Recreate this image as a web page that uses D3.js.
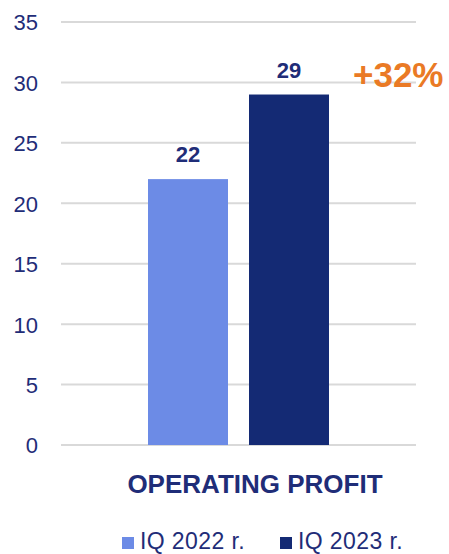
<!DOCTYPE html>
<meta charset="utf-8">
<script src="https://d3js.org/d3.v7.min.js"></script>
<style>
  body { margin: 0; background: #fff; }
  text { font-family: "Liberation Sans", Arial, sans-serif; }
</style>
<div id="chart"></div>
<script>

// data
var categories = ["OPERATING PROFIT"]
var series = ["IQ 2022 r.", "IQ 2023 r."]
var values = [22, 29]
var yTicks = [0, 5, 10, 15, 20, 25, 30, 35]
var change = "+32%"

var colors = ["#6c8be6", "#142a74"]
var navy = "#1f2d78"

var width = 449, height = 554
var margin = {top: 22, right: 33, bottom: 109, left: 61}

var svg = d3.select("#chart")
  .append("svg")
    .attr("width", width)
    .attr("height", height)

var g = svg.append("g")
    .attr("transform", "translate(" + margin.left + "," + margin.top + ")")

var w = width - margin.left - margin.right,
    h = height - margin.top - margin.bottom

var y = d3.scaleLinear()
  .domain([0, 35])
  .range([h, 0])

// one category, bars placed inside it
var x0 = d3.scaleBand()
  .domain(categories)
  .range([0, w])

var x1 = d3.scaleBand()
  .domain(series)
  .range([87, 268])
  .paddingInner(0.208)

// gridlines
g.selectAll(".grid")
  .data(yTicks)
  .enter()
  .append("line")
    .attr("x1", 0)
    .attr("x2", w)
    .attr("y1", function(d) { return y(d) })
    .attr("y2", function(d) { return y(d) })
    .attr("stroke", "#d9d9d9")
    .attr("stroke-width", 2)

// y axis labels
var yAxis = d3.axisLeft(y).tickValues(yTicks).tickSize(0).tickPadding(23)
g.append("g")
  .call(yAxis)
  .call(function(s) { s.select(".domain").remove() })
  .selectAll("text")
    .attr("fill", navy)
    .attr("font-size", 22)
    .style("font-family", "Liberation Sans, Arial, sans-serif")
    .attr("dy", "0.36em")

// bars
g.selectAll(".bar")
  .data(values)
  .enter()
  .append("rect")
    .attr("x", function(d, i) { return x0(categories[0]) + x1(series[i]) })
    .attr("width", x1.bandwidth())
    .attr("y", function(d) { return y(d) })
    .attr("height", function(d) { return h - y(d) })
    .attr("fill", function(d, i) { return colors[i] })

// value labels
g.selectAll(".val")
  .data(values)
  .enter()
  .append("text")
    .attr("x", function(d, i) { return x1(series[i]) + x1.bandwidth() / 2 })
    .attr("y", function(d) { return y(d) - 17 })
    .attr("text-anchor", "middle")
    .attr("fill", navy)
    .attr("font-size", 22)
    .attr("font-weight", "bold")
    .text(function(d) { return d })

// change label
g.append("text")
  .attr("x", 292)
  .attr("y", y(values[1]) - 8)
  .attr("fill", "#ea7a25")
  .attr("font-size", 35)
  .attr("font-weight", "bold")
  .text(change)

// category label
g.append("text")
  .attr("x", 194)
  .attr("y", h + 48)
  .attr("text-anchor", "middle")
  .attr("fill", navy)
  .attr("font-size", 26)
  .attr("font-weight", "bold")
  .text(categories[0])

// legend
var legend = svg.selectAll(".legend")
  .data(series)
  .enter()
  .append("g")
    .attr("transform", function(d, i) { return "translate(" + (122 + i * 158) + ",537)" })

legend.append("rect")
  .attr("width", 12)
  .attr("height", 12)
  .attr("fill", function(d, i) { return colors[i] })

legend.append("text")
  .attr("x", 18)
  .attr("y", 12)
  .attr("fill", navy)
  .attr("font-size", 23)
  .attr("letter-spacing", 0.4)
  .text(function(d) { return d })

</script>
